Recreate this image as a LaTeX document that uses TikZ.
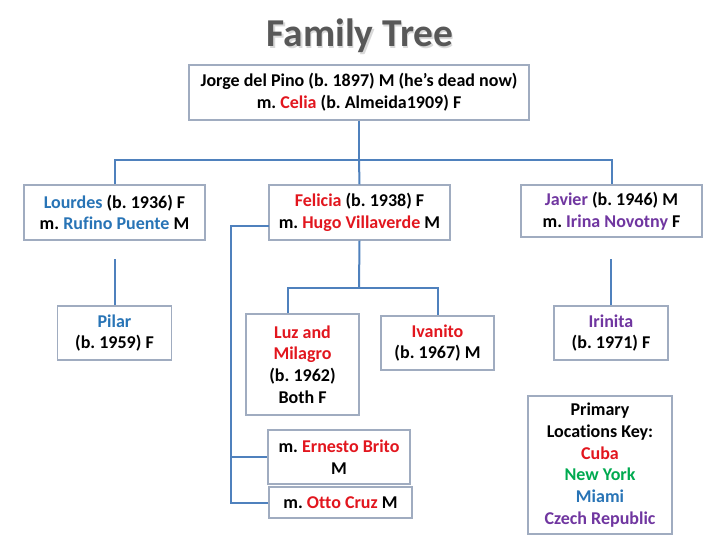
\documentclass[tikz,border=0pt]{standalone}
\usepackage{fontspec}
\setmainfont[Ligatures=CommonOff]{Carlito}
\frenchspacing
\definecolor{cred}{RGB}{226,22,30}
\definecolor{cblue}{RGB}{40,116,182}
\definecolor{cgreen}{RGB}{0,170,80}
\definecolor{cpurple}{RGB}{112,54,160}
\definecolor{linkc}{RGB}{79,129,189}
\definecolor{boxc}{RGB}{160,172,192}
\definecolor{titlec}{RGB}{88,88,88}
\newcommand{\rd}[1]{\textcolor{cred}{#1}}
\newcommand{\bl}[1]{\textcolor{cblue}{#1}}
\newcommand{\gr}[1]{\textcolor{cgreen}{#1}}
\newcommand{\pu}[1]{\textcolor{cpurple}{#1}}
\begin{document}
\begin{tikzpicture}[x=1pt,y=-1pt,
  person/.style={draw=boxc, line width=1.1pt, fill=white, align=center,
    inner sep=0pt, font=\fontsize{18}{21.7}\selectfont\bfseries},
  link/.style={draw=linkc, line width=2pt}]
\useasboundingbox (0,0) rectangle (720,540);
% title
\node[anchor=base, text=black!15, font=\fontsize{39.5}{42}\selectfont\bfseries] at (361.5,48.5) {Family Tree};
\node[anchor=base, text=titlec, font=\fontsize{39.5}{42}\selectfont\bfseries] (title) at (360,47) {Family Tree};
% boxes
\node[person, minimum width=340, minimum height=55] (top) at (359,92.5)
  {Jorge del Pino (b. 1897) M (he’s dead now)\\m. \rd{Celia} (b. Almeida1909) F};
\node[person, minimum width=181, minimum height=55] (lourdes) at (114.5,212.5)
  {\bl{Lourdes} (b. 1936) F\\m. \bl{Rufino Puente} M};
\node[person, minimum width=181, minimum height=55] (felicia) at (359.5,212.5)
  {\rd{Felicia} (b. 1938) F\\m. \rd{Hugo Villaverde} M};
\node[person, minimum width=181, minimum height=52] (javier) at (611.5,211)
  {\pu{Javier} (b. 1946) M\\m. \pu{Irina Novotny} F};
\node[person, minimum width=114, minimum height=54] (pilar) at (114.5,333)
  {\bl{Pilar}\\(b. 1959) F};
\node[person, minimum width=113, minimum height=101] (luz) at (302.5,364.5)
  {\rd{Luz and}\\\rd{Milagro}\\(b. 1962)\\Both F};
\node[person, minimum width=113, minimum height=54] (ivanito) at (437.5,343)
  {\rd{Ivanito}\\(b. 1967) M};
\node[person, minimum width=114, minimum height=54] (irinita) at (611,333)
  {\pu{Irinita}\\(b. 1971) F};
\node[person, minimum width=144, minimum height=138] (key) at (600,465)
  {Primary\\Locations Key:\\\rd{Cuba}\\\gr{New York}\\\bl{Miami}\\\pu{Czech Republic}};
\node[person, minimum width=142, minimum height=54] (ernesto) at (339,457)
  {m. \rd{Ernesto Brito}\\M};
\node[person, minimum width=143, minimum height=31] (otto) at (340.5,502.5)
  {m. \rd{Otto Cruz} M};
% connectors
\coordinate (hb) at (359,160);
\draw[link] (top.south) -- (hb);
\draw[link] (lourdes.north) |- (hb) -| (javier.north);
\draw[link] (hb) -- (felicia.north);
\coordinate (lp) at (114.5,259);
\draw[link] (lp) -- (pilar.north);
\coordinate (jp) at (611,259);
\draw[link] (jp) -- (irinita.north);
\coordinate (fb) at (359,288);
\coordinate (la) at (288,288);
\draw[link] (felicia.south) -- (fb);
\draw[link] (la |- luz.north) -- (la) -| (ivanito.north);
\coordinate (fs) at (269,226);
\coordinate (sp) at (231,226);
\draw[link] (fs) -- (sp) |- (otto.west);
\draw[link] (sp |- ernesto.west) -- (ernesto.west);
\end{tikzpicture}
\end{document}
